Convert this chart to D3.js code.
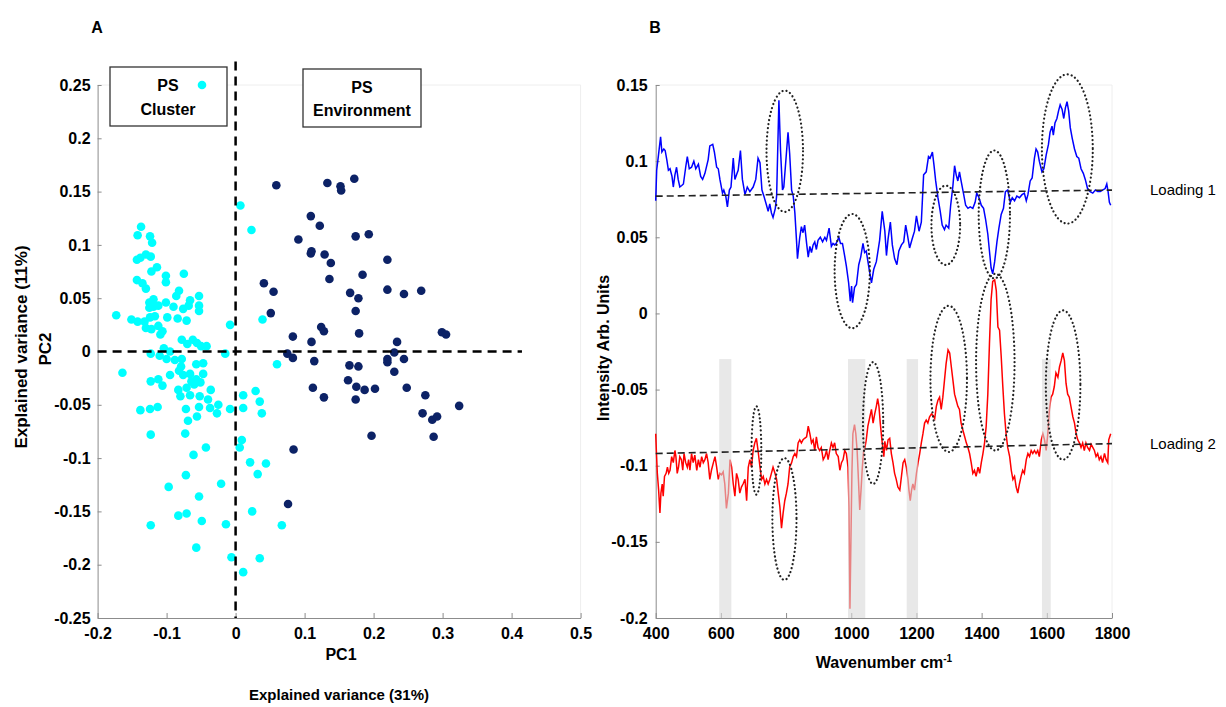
<!DOCTYPE html>
<html lang="en">
<head>
<meta charset="UTF-8">
<title>PCA scores and loadings</title>
<style>
  body { margin: 0; background: #fff; }
  text { font-family: "Liberation Sans", Arial, sans-serif; fill: #000; }
  .axis path, .axis line { stroke: #8c8c8c; stroke-width: 1; }
  .axis-a text { font: bold 16px "Liberation Sans", Arial, sans-serif; }
  .axis-b text { font: bold 16px "Liberation Sans", Arial, sans-serif; }
  .frame { fill: none; stroke: #eeeeee; }
  .label-a { font: bold 16px "Liberation Sans", Arial, sans-serif; }
  .label-b { font: bold 16px "Liberation Sans", Arial, sans-serif; }
  .legend-box { fill: #fff; stroke: #333; stroke-width: 1.3; }
  .zero-line { stroke: #000; stroke-width: 2.5; stroke-dasharray: 9 6; }
  .baseline { stroke: #222; stroke-width: 1.6; stroke-dasharray: 7 4; fill: none; }
  .peak-mark { fill: none; stroke: #222; stroke-width: 2.2; stroke-dasharray: 0.1 4; stroke-linecap: round; }
</style>
</head>
<body>
<svg id="chart" width="1226" height="707"></svg>
<script src="https://cdn.jsdelivr.net/npm/d3@7"></script>
<script>
// ---- panel A: PCA scores (PC1, PC2) ----
const psCluster = [
  [0.007,0.137],[0.023,0.114],[0.039,0.030],[-0.008,0.025],
  [-0.137,0.117],[-0.142,0.109],[-0.124,0.108],[-0.121,0.102],[-0.143,0.086],[-0.138,0.088],
  [-0.130,0.091],[-0.123,0.089],[-0.122,0.075],[-0.114,0.079],[-0.143,0.067],[-0.135,0.064],
  [-0.130,0.059],[-0.101,0.071],[-0.101,0.065],[-0.075,0.073],[-0.082,0.057],[-0.086,0.052],
  [-0.053,0.052],[-0.125,0.046],[-0.119,0.049],[-0.125,0.041],[-0.119,0.042],[-0.112,0.043],
  [-0.101,0.046],[-0.090,0.042],[-0.076,0.040],[-0.068,0.043],[-0.066,0.048],[-0.053,0.043],
  [-0.053,0.038],[-0.173,0.034],[-0.151,0.030],[-0.142,0.028],[-0.132,0.028],[-0.124,0.032],
  [-0.117,0.033],[-0.130,0.022],[-0.122,0.021],[-0.112,0.024],[-0.106,0.019],[-0.109,0.016],
  [-0.099,0.032],[-0.084,0.031],[-0.071,0.029],[-0.078,0.011],[-0.070,0.007],[-0.062,0.011],
  [-0.056,0.008],[-0.050,0.005],[-0.042,0.005],[-0.104,0.003],[-0.095,0.000],[-0.123,-0.002],
  [-0.110,-0.004],[-0.100,-0.007],[-0.088,-0.008],[-0.078,-0.007],[-0.057,-0.012],[-0.047,-0.011],
  [-0.015,-0.002],
  [-0.164,-0.020],[-0.079,-0.014],[-0.082,-0.018],[-0.076,-0.022],[-0.047,-0.021],[-0.123,-0.028],
  [-0.112,-0.026],[-0.106,-0.032],[-0.095,-0.022],[-0.066,-0.021],[-0.064,-0.028],[-0.057,-0.026],
  [-0.051,-0.029],[-0.060,-0.031],[-0.083,-0.036],[-0.071,-0.034],[-0.080,-0.042],[-0.066,-0.041],
  [-0.052,-0.042],[-0.036,-0.036],[-0.040,-0.045],[-0.025,-0.050],[-0.037,-0.053],[-0.027,-0.058],
  [-0.138,-0.055],[-0.124,-0.054],[-0.113,-0.052],[-0.072,-0.054],[-0.069,-0.065],[-0.053,-0.052],
  [-0.056,-0.061],[-0.008,-0.054],[-0.123,-0.078],[-0.073,-0.077],[-0.043,-0.090],[-0.061,-0.097],
  [-0.097,-0.127],[-0.072,-0.116],[-0.053,-0.136],[-0.021,-0.124],[-0.083,-0.154],[-0.071,-0.152],
  [-0.049,-0.159],[-0.123,-0.163],[-0.014,-0.162],[-0.057,-0.184],[-0.006,-0.193],
  [0.011,-0.041],[0.029,-0.037],[0.035,-0.047],[0.038,-0.058],[0.011,-0.053],[0.009,-0.083],
  [0.006,-0.090],[0.021,-0.104],[0.044,-0.105],[0.032,-0.115],[0.024,-0.150],[0.035,-0.194],
  [0.067,-0.163],[0.011,-0.207],[0.060,-0.012]
];

const psEnvironment = [
  [0.059,0.156],[0.133,0.158],[0.152,0.155],[0.153,0.151],[0.172,0.162],[0.109,0.127],
  [0.122,0.118],[0.091,0.105],[0.174,0.108],[0.193,0.110],[0.109,0.092],[0.110,0.094],
  [0.129,0.091],[0.138,0.083],[0.136,0.068],[0.184,0.072],[0.220,0.086],[0.041,0.064],
  [0.055,0.056],[0.166,0.055],[0.178,0.050],[0.220,0.058],[0.244,0.054],[0.269,0.057],
  [0.051,0.036],[0.174,0.038],[0.124,0.023],[0.128,0.019],[0.179,0.017],[0.083,0.014],
  [0.110,0.009],[0.234,0.009],[0.299,0.018],[0.305,0.016],
  [0.075,-0.002],[0.083,-0.006],[0.114,-0.009],[0.165,-0.013],[0.178,-0.014],[0.220,-0.007],
  [0.220,-0.010],[0.230,-0.001],[0.244,-0.007],[0.230,-0.019],[0.163,-0.027],[0.175,-0.033],
  [0.187,-0.036],[0.202,-0.035],[0.112,-0.034],[0.128,-0.043],[0.174,-0.045],[0.248,-0.034],
  [0.275,-0.041],[0.324,-0.051],[0.271,-0.058],[0.285,-0.064],[0.292,-0.061],[0.197,-0.079],
  [0.287,-0.080],[0.084,-0.092],[0.076,-0.143]
];

const pc1Ticks = [-0.2, -0.1, 0, 0.1, 0.2, 0.3, 0.4, 0.5];
const pc2Ticks = [-0.25, -0.2, -0.15, -0.1, -0.05, 0, 0.05, 0.1, 0.15, 0.2, 0.25];

// ---- panel B: loadings vs wavenumber ----
const wave1 = [400,403,408,415,419,425,429,434,439,444,450,454,459,464,469,474,480,485,492,497,
  503,510,517,523,531,538,544,551,561,566,575,580,587,592,597,605,609,615,620,626,
  631,638,643,648,653,660,666,674,681,689,699,707,714,720,726,732,740,745,750,755,
  760,767,771,778,783,789,793,801,806,811,817,822,827,832,835,842,847,852,857,863,
  868,873,878,883,888,893,898,905,912,919,924,932,939,944,949,954,962,967,973,978,
  985,992,997,1001,1004,1010,1016,1023,1029,1036,1041,1046,1055,1062,1069,1077,1087,1095,1103,1108,
  1113,1120,1126,1133,1140,1146,1154,1161,1167,1172,1179,1187,1194,1200,1208,1215,1222,1230,1237,1242,
  1249,1254,1259,1266,1273,1279,1286,1291,1299,1305,1312,1317,1322,1327,1332,1337,1345,1351,1358,1365,
  1373,1380,1385,1392,1399,1406,1412,1419,1424,1429,1434,1440,1447,1453,1460,1467,1473,1480,1488,1494,
  1501,1508,1516,1524,1531,1537,1542,1549,1555,1562,1567,1572,1577,1585,1591,1598,1605,1610,1616,1620,
  1625,1631,1636,1641,1647,1652,1657,1662,1667,1672,1678,1685,1692,1698,1705,1712,1718,1725,1733,1741,
  1749,1756,1764,1771,1779,1784,1788,1792,1796];
const loading1 = [0.074,0.094,0.103,0.116,0.106,0.108,0.107,0.101,0.094,0.095,0.090,0.083,0.091,0.096,0.088,0.083,0.084,0.085,0.096,0.103,
  0.095,0.096,0.100,0.095,0.098,0.090,0.088,0.092,0.101,0.110,0.111,0.106,0.096,0.095,0.088,0.079,0.081,0.077,0.070,0.081,
  0.083,0.102,0.088,0.091,0.094,0.107,0.088,0.078,0.083,0.080,0.083,0.088,0.102,0.099,0.081,0.077,0.071,0.067,0.072,0.066,
  0.063,0.069,0.077,0.140,0.107,0.081,0.083,0.105,0.119,0.105,0.081,0.077,0.066,0.048,0.036,0.050,0.057,0.053,0.058,0.046,
  0.037,0.044,0.040,0.045,0.047,0.042,0.048,0.050,0.047,0.050,0.048,0.056,0.044,0.046,0.045,0.046,0.050,0.046,0.046,0.040,
  0.031,0.020,0.008,0.018,0.007,0.017,0.019,0.032,0.037,0.046,0.040,0.041,0.029,0.020,0.029,0.034,0.048,0.067,0.054,0.038,
  0.049,0.060,0.045,0.036,0.032,0.041,0.045,0.047,0.058,0.052,0.043,0.049,0.054,0.064,0.054,0.060,0.091,0.093,0.103,0.102,
  0.106,0.097,0.087,0.076,0.067,0.058,0.055,0.058,0.056,0.071,0.084,0.097,0.091,0.087,0.093,0.087,0.078,0.071,0.069,0.070,
  0.069,0.073,0.079,0.076,0.071,0.069,0.062,0.052,0.041,0.030,0.026,0.034,0.047,0.056,0.065,0.069,0.080,0.081,0.073,0.076,
  0.074,0.077,0.076,0.078,0.079,0.074,0.078,0.087,0.089,0.102,0.108,0.106,0.100,0.093,0.095,0.104,0.111,0.119,0.123,0.117,
  0.125,0.128,0.133,0.137,0.134,0.128,0.135,0.139,0.133,0.122,0.115,0.108,0.103,0.102,0.095,0.092,0.088,0.082,0.080,0.079,
  0.081,0.080,0.080,0.081,0.082,0.085,0.080,0.073,0.071];

const wave2 = [400,402,405,409,413,416,420,423,427,432,436,440,444,449,454,459,462,466,470,474,
  479,483,487,492,497,501,505,510,515,520,526,531,536,541,546,551,556,561,566,571,
  577,582,587,592,597,602,607,612,617,623,628,633,638,643,648,653,658,663,668,674,
  679,684,689,694,699,704,709,714,720,725,730,735,740,745,750,755,760,766,771,776,
  781,786,791,796,801,806,811,817,822,827,832,837,842,847,852,857,863,868,873,878,
  883,888,893,898,903,908,914,919,924,929,934,939,944,949,954,960,965,970,975,980,
  985,990,993,996,999,1002,1005,1010,1014,1018,1022,1026,1030,1034,1038,1042,1046,1051,1057,1062,
  1067,1072,1077,1081,1085,1089,1094,1100,1103,1108,1113,1118,1123,1128,1133,1138,1143,1149,1154,1159,
  1164,1169,1174,1177,1181,1185,1189,1194,1200,1205,1210,1215,1220,1225,1230,1235,1240,1246,1251,1256,
  1261,1266,1271,1276,1281,1286,1291,1297,1302,1307,1312,1317,1322,1327,1332,1337,1343,1348,1353,1358,
  1363,1368,1373,1378,1383,1389,1394,1399,1404,1409,1414,1419,1424,1429,1434,1440,1445,1450,1455,1460,
  1465,1470,1475,1480,1486,1491,1496,1501,1506,1511,1516,1521,1526,1531,1537,1542,1547,1552,1557,1562,
  1567,1572,1577,1583,1588,1593,1598,1603,1608,1613,1618,1623,1628,1634,1639,1644,1649,1654,1659,1664,
  1669,1674,1680,1685,1690,1695,1700,1705,1710,1715,1720,1725,1731,1736,1741,1746,1751,1756,1761,1766,
  1771,1777,1782,1787,1790,1796];
const loading2 = [-0.079,-0.090,-0.105,-0.116,-0.131,-0.118,-0.112,-0.120,-0.107,-0.105,-0.101,-0.105,-0.103,-0.094,-0.098,-0.090,-0.094,-0.105,-0.101,-0.094,
  -0.096,-0.103,-0.092,-0.098,-0.101,-0.096,-0.103,-0.092,-0.098,-0.093,-0.103,-0.096,-0.101,-0.094,-0.098,-0.096,-0.092,-0.098,-0.109,-0.103,
  -0.098,-0.094,-0.101,-0.109,-0.105,-0.106,-0.104,-0.112,-0.128,-0.118,-0.096,-0.101,-0.112,-0.120,-0.105,-0.109,-0.118,-0.114,-0.112,-0.109,
  -0.123,-0.101,-0.096,-0.101,-0.090,-0.085,-0.082,-0.090,-0.101,-0.109,-0.107,-0.112,-0.109,-0.112,-0.109,-0.105,-0.101,-0.105,-0.109,-0.118,
  -0.127,-0.141,-0.131,-0.123,-0.118,-0.112,-0.101,-0.098,-0.094,-0.092,-0.094,-0.085,-0.083,-0.085,-0.083,-0.082,-0.081,-0.074,-0.079,-0.085,
  -0.083,-0.090,-0.081,-0.088,-0.090,-0.088,-0.096,-0.094,-0.090,-0.096,-0.090,-0.085,-0.088,-0.085,-0.092,-0.094,-0.103,-0.098,-0.096,-0.090,
  -0.092,-0.101,-0.127,-0.194,-0.149,-0.105,-0.079,-0.073,-0.079,-0.090,-0.109,-0.129,-0.116,-0.101,-0.090,-0.088,-0.083,-0.074,-0.068,-0.063,
  -0.072,-0.066,-0.061,-0.056,-0.061,-0.072,-0.083,-0.094,-0.084,-0.090,-0.083,-0.082,-0.092,-0.098,-0.105,-0.109,-0.114,-0.116,-0.107,-0.098,
  -0.096,-0.101,-0.109,-0.116,-0.123,-0.116,-0.112,-0.116,-0.105,-0.098,-0.092,-0.085,-0.079,-0.072,-0.070,-0.072,-0.068,-0.066,-0.067,-0.069,
  -0.061,-0.057,-0.055,-0.063,-0.055,-0.044,-0.033,-0.024,-0.026,-0.035,-0.044,-0.053,-0.057,-0.061,-0.063,-0.072,-0.077,-0.081,-0.085,-0.088,
  -0.092,-0.098,-0.105,-0.103,-0.107,-0.101,-0.105,-0.098,-0.092,-0.085,-0.074,-0.053,-0.020,0.009,0.021,0.022,0.015,-0.009,-0.011,-0.028,
  -0.048,-0.066,-0.079,-0.088,-0.094,-0.103,-0.109,-0.107,-0.114,-0.118,-0.112,-0.107,-0.103,-0.105,-0.096,-0.092,-0.094,-0.090,-0.092,-0.090,
  -0.092,-0.090,-0.094,-0.083,-0.079,-0.083,-0.090,-0.079,-0.063,-0.055,-0.053,-0.048,-0.039,-0.042,-0.035,-0.031,-0.026,-0.031,-0.046,-0.053,
  -0.055,-0.061,-0.068,-0.072,-0.079,-0.083,-0.085,-0.088,-0.085,-0.090,-0.085,-0.088,-0.090,-0.086,-0.088,-0.090,-0.094,-0.092,-0.096,-0.094,
  -0.098,-0.092,-0.096,-0.098,-0.083,-0.079];

// dashed reference levels of each loading (at 400 and 1800 cm-1)
const baseline1 = [[400, 0.077], [1800, 0.081]];
const baseline2 = [[400, -0.092], [1800, -0.0855]];

// shaded wavenumber bands and their upper limit
const bandStart = [595, 990, 1170, 1585];
const bandEnd = [632, 1043, 1205, 1612];
const bandTop = -0.03;

// dotted peak marks: centre and half extent, in data units
const markWave = [796, 1003, 1290, 1439, 1663, 709, 795, 1067, 1299, 1442, 1650];
const markValue = [0.1065, 0.0278, 0.0579, 0.065, 0.108, -0.090, -0.135, -0.072, -0.043, -0.032, -0.047];
const markHalfWave = [56, 54, 44, 48, 78, 15, 37, 31, 56, 59, 53];
const markHalfValue = [0.0398, 0.0375, 0.026, 0.042, 0.049, 0.029, 0.040, 0.040, 0.048, 0.058, 0.049];

const waveTicks = [400, 600, 800, 1000, 1200, 1400, 1600, 1800];
const loadTicks = [-0.2, -0.15, -0.1, -0.05, 0, 0.05, 0.1, 0.15];

const svg = d3.select("#chart");

// ================= panel A =================
const xA = d3.scaleLinear().domain([-0.2, 0.5]).range([97.6, 580.6]);
const yA = d3.scaleLinear().domain([-0.25, 0.25]).range([618, 85]);

const gA = svg.append("g");

gA.append("path").attr("class", "frame")
  .attr("d", `M${xA(-0.2)},${yA(0.25)}H${xA(0.5)}V${yA(-0.25)}`);

gA.append("g").attr("class", "axis axis-a")
  .attr("transform", `translate(0,${yA(-0.25)})`)
  .call(d3.axisBottom(xA).tickValues(pc1Ticks).tickFormat(d => String(d))
    .tickSizeInner(-5).tickSizeOuter(0).tickPadding(10));

gA.append("g").attr("class", "axis axis-a")
  .attr("transform", `translate(${xA(-0.2)},0)`)
  .call(d3.axisLeft(yA).tickValues(pc2Ticks).tickFormat(d => String(d))
    .tickSizeInner(-4).tickSizeOuter(0).tickPadding(7));

gA.selectAll("circle.cluster")
  .data(psCluster).join("circle").attr("class", "cluster")
  .attr("cx", d => xA(d[0])).attr("cy", d => yA(d[1]))
  .attr("r", 4.3).attr("fill", "#00ffff");

gA.selectAll("circle.env")
  .data(psEnvironment).join("circle").attr("class", "env")
  .attr("cx", d => xA(d[0])).attr("cy", d => yA(d[1]))
  .attr("r", 4.3).attr("fill", "#0c2266");

gA.append("line").attr("class", "zero-line")
  .attr("x1", xA(0)).attr("x2", xA(0)).attr("y1", yA(0.272)).attr("y2", yA(-0.25));
gA.append("line").attr("class", "zero-line")
  .attr("x1", xA(-0.2)).attr("x2", xA(0.415)).attr("y1", yA(0)).attr("y2", yA(0));

// legend boxes
gA.append("rect").attr("class", "legend-box").attr("x", 110).attr("y", 67).attr("width", 117).attr("height", 59);
gA.append("text").attr("class", "label-a").attr("x", 168).attr("y", 91).attr("text-anchor", "middle").text("PS");
gA.append("text").attr("class", "label-a").attr("x", 168).attr("y", 115).attr("text-anchor", "middle").text("Cluster");
gA.append("circle").attr("cx", 202).attr("cy", 85).attr("r", 4.3).attr("fill", "#00ffff");

gA.append("rect").attr("class", "legend-box").attr("x", 303).attr("y", 69).attr("width", 118).attr("height", 58);
gA.append("text").attr("class", "label-a").attr("x", 362).attr("y", 93).attr("text-anchor", "middle").text("PS");
gA.append("text").attr("class", "label-a").attr("x", 362).attr("y", 116).attr("text-anchor", "middle").text("Environment");

gA.append("text").attr("class", "label-a").attr("x", 97).attr("y", 33).attr("text-anchor", "middle").text("A");
gA.append("text").attr("class", "label-a").attr("x", 341).attr("y", 660).attr("text-anchor", "middle").text("PC1");
gA.append("text").attr("class", "label-a").style("font-size", "15px")
  .attr("x", 339).attr("y", 700).attr("text-anchor", "middle").text("Explained variance (31%)");
gA.append("text").attr("class", "label-b").style("font-size", "17px")
  .attr("transform", "translate(51,349) rotate(-90)").attr("text-anchor", "middle").text("PC2");
gA.append("text").attr("class", "label-b").style("font-size", "17px")
  .attr("transform", "translate(27,347) rotate(-90)").attr("text-anchor", "middle").text("Explained variance (11%)");

// ================= panel B =================
const xB = d3.scaleLinear().domain([400, 1800]).range([655.7, 1112]);
const yB = d3.scaleLinear().domain([-0.2, 0.15]).range([618, 85]);

const gB = svg.append("g");

gB.append("path").attr("class", "frame")
  .attr("d", `M${xB(400)},${yB(0.15)}H${xB(1800)}V${yB(-0.2)}`);

gB.append("g").attr("class", "axis axis-b")
  .attr("transform", `translate(0,${yB(-0.2)})`)
  .call(d3.axisBottom(xB).tickValues(waveTicks).tickFormat(d => String(d))
    .tickSizeInner(-5).tickSizeOuter(0).tickPadding(10));

gB.append("g").attr("class", "axis axis-b")
  .attr("transform", `translate(${xB(400)},0)`)
  .call(d3.axisLeft(yB).tickValues(loadTicks).tickFormat(d => String(d))
    .tickSizeInner(-4).tickSizeOuter(0).tickPadding(8));

const line = d3.line().x(d => xB(d[0])).y(d => yB(d[1]));

gB.append("path").datum(wave1.map((w, i) => [w, loading1[i]]))
  .attr("d", line).attr("fill", "none").attr("stroke", "#0000ff").attr("stroke-width", 1.5);
gB.append("path").datum(wave2.map((w, i) => [w, loading2[i]]))
  .attr("d", line).attr("fill", "none").attr("stroke", "#ff0000").attr("stroke-width", 1.5);

gB.selectAll("rect.band")
  .data(bandStart.map((s, i) => [s, bandEnd[i]])).join("rect").attr("class", "band")
  .attr("x", d => xB(d[0])).attr("width", d => xB(d[1]) - xB(d[0]))
  .attr("y", yB(bandTop)).attr("height", yB(-0.2) - yB(bandTop))
  .attr("fill", "#d9d9d9").attr("opacity", 0.6);

gB.append("path").datum(baseline1).attr("class", "baseline").attr("d", line);
gB.append("path").datum(baseline2).attr("class", "baseline").attr("d", line);

gB.selectAll("ellipse.peak-mark")
  .data(markWave.map((w, i) => ({ w, v: markValue[i], hw: markHalfWave[i], hv: markHalfValue[i] })))
  .join("ellipse").attr("class", "peak-mark")
  .attr("cx", d => xB(d.w)).attr("cy", d => yB(d.v))
  .attr("rx", d => xB(d.w + d.hw) - xB(d.w)).attr("ry", d => yB(d.v - d.hv) - yB(d.v));

gB.append("text").style("font-size", "15px").attr("x", 1150).attr("y", 195).text("Loading 1");
gB.append("text").style("font-size", "15px").attr("x", 1150).attr("y", 449).text("Loading 2");

gB.append("text").attr("class", "label-b").attr("x", 655).attr("y", 33).attr("text-anchor", "middle").text("B");

const xt = gB.append("text").attr("class", "label-b").attr("x", 884).attr("y", 668).attr("text-anchor", "middle");
xt.append("tspan").text("Wavenumber cm");
xt.append("tspan").attr("dy", -6).style("font-size", "10px").text("-1");

gB.append("text").attr("class", "label-b")
  .attr("transform", "translate(609,348) rotate(-90)").attr("text-anchor", "middle").text("Intensity Arb. Units");
</script>
</body>
</html>
